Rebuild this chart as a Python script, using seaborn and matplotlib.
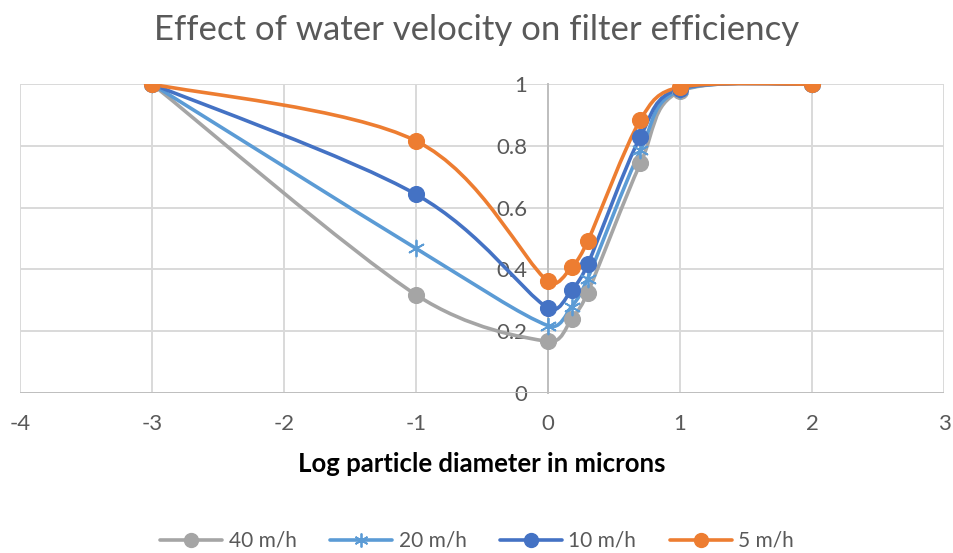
import numpy as np
import pandas as pd
import matplotlib
matplotlib.use("Agg")
import matplotlib.pyplot as plt
from matplotlib.path import Path
from matplotlib.patches import PathPatch
from matplotlib.lines import Line2D
from matplotlib.ticker import FuncFormatter
import seaborn as sns

# data
log_d = [-3, -1, 0, 0.18, 0.3, 0.7, 1, 2]
eff_40 = [1.0, 0.318, 0.167, 0.240, 0.324, 0.743, 0.976, 1.0]
eff_20 = [1.0, 0.468, 0.218, 0.280, 0.370, 0.785, 0.980, 1.0]
eff_10 = [1.0, 0.643, 0.275, 0.334, 0.416, 0.830, 0.985, 1.0]
eff_5 = [1.0, 0.816, 0.361, 0.408, 0.491, 0.884, 0.990, 1.0]
series_names = ["40 m/h", "20 m/h", "10 m/h", "5 m/h"]

series = dict(zip(series_names, [eff_40, eff_20, eff_10, eff_5]))
df = pd.DataFrame([(n, x, y) for n in series_names for x, y in zip(log_d, series[n])],
                  columns=["velocity", "log_d", "eff"])

colors = {"40 m/h": "#A5A5A5", "20 m/h": "#5B9BD5", "10 m/h": "#4472C4", "5 m/h": "#ED7D31"}
markers = {"40 m/h": "o", "20 m/h": (6, 2, 0), "10 m/h": "o", "5 m/h": "o"}

sns.set_style("white")
plt.rcParams["font.family"] = ["Lato", "DejaVu Sans"]
plt.rcParams["axes.unicode_minus"] = False
txt = "#595959"
grid = "#D9D9D9"

fig, ax = plt.subplots(figsize=(9.54, 5.53), dpi=100)
fig.subplots_adjust(left=0.021, right=0.9895, top=0.848, bottom=0.2893)
ax.set_xlim(-4, 3)
ax.set_ylim(0, 1)


def smooth_path(xs, ys):
    # excel-like smoothed line: bezier segments built in pixel space
    pts = ax.transData.transform(np.column_stack([xs, ys]))
    n = len(pts)
    verts = [pts[0]]
    codes = [Path.MOVETO]
    for i in range(n - 1):
        p0 = pts[max(i - 1, 0)]
        p1 = pts[i]
        p2 = pts[i + 1]
        p3 = pts[min(i + 2, n - 1)]
        seg = np.linalg.norm(p2 - p1)
        t1 = (p2 - p0) / 6
        t2 = (p3 - p1) / 6
        for t in (t1, t2):
            l = np.linalg.norm(t)
            if l > 0.45 * seg:
                t *= 0.45 * seg / l
        verts += [p1 + t1, p2 - t2, p2]
        codes += [Path.CURVE4] * 3
    verts = ax.transData.inverted().transform(np.array(verts))
    return Path(verts, codes)


for name in series_names:
    ax.add_patch(PathPatch(smooth_path(log_d, series[name]), fill=False,
                           edgecolor=colors[name], lw=2.6, zorder=3, capstyle="round"))
    sub = df[df["velocity"] == name]
    if name == "20 m/h":
        sns.scatterplot(data=sub, x="log_d", y="eff", ax=ax, marker=markers[name],
                        s=130, color=colors[name], linewidth=1.3, zorder=4, legend=False)
    else:
        sns.scatterplot(data=sub, x="log_d", y="eff", ax=ax, marker="o", s=130,
                        color=colors[name], edgecolor=colors[name], zorder=4, legend=False)

ax.set_xticks(range(-4, 4))
ax.set_yticks([0, 0.2, 0.4, 0.6, 0.8, 1])
ax.yaxis.set_major_formatter(FuncFormatter(lambda v, p: "%g" % v))
ax.grid(True, color=grid, lw=1.4)
ax.set_axisbelow(True)
for s in ["top", "right", "bottom"]:
    ax.spines[s].set_visible(False)
ax.spines["left"].set_position(("data", 0))
ax.spines["left"].set_color("#BFBFBF")
ax.spines["left"].set_linewidth(1.4)
ax.axhline(0, color="#BFBFBF", lw=1.4, zorder=1)
ax.tick_params(axis="both", length=0, labelsize=16, labelcolor=txt)
ax.tick_params(axis="y", pad=15)
ax.tick_params(axis="x", pad=15)
ax.set_xlabel("Log particle diameter in microns", fontsize=18.5, fontweight="bold",
              color="black", labelpad=13)
ax.set_ylabel("")

fig.suptitle("Effect of water velocity on filter efficiency", y=0.945, va="center",
             fontsize=25, color=txt)

handles = [Line2D([], [], color=colors[n], lw=2.6, marker=markers[n], markersize=10,
                  markeredgewidth=1.3 if n == "20 m/h" else 1, label=n)
           for n in series_names]
fig.legend(handles=handles, loc="center", bbox_to_anchor=(0.5, 0.022), ncol=4,
           frameon=False, fontsize=15, handlelength=3.0, columnspacing=1.6,
           handletextpad=0.3, labelcolor=txt)

fig.savefig("out.png", dpi=100)
